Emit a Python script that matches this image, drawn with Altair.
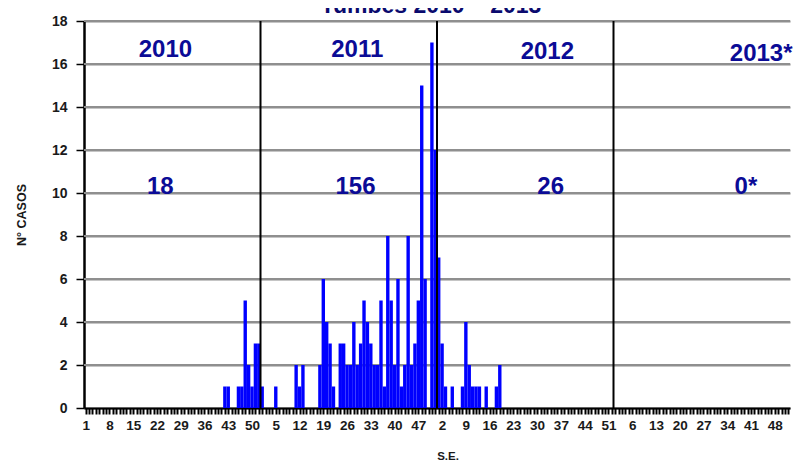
import altair as alt
import pandas as pd

# ---------------- data ----------------
title_text = "Tumbes 2010 – 2013"
years = ["2010", "2011", "2012", "2013*"]
year_totals = ["18", "156", "26", "0*"]
week_tick_labels = ["1", "8", "15", "22", "29", "36", "43", "50",
                    "5", "12", "19", "26", "33", "40", "47",
                    "2", "9", "16", "23", "30", "37", "44", "51",
                    "6", "13", "20", "27", "34", "41", "48"]
y_ticks = [0, 2, 4, 6, 8, 10, 12, 14, 16, 18]

# weekly cases, weeks 1..52 of each year
cases_2010 = [0, 0, 0, 0, 0, 0, 0, 0, 0, 0,
              0, 0, 0, 0, 0, 0, 0, 0, 0, 0,
              0, 0, 0, 0, 0, 0, 0, 0, 0, 0,
              0, 0, 0, 0, 0, 0, 0, 0, 0, 0,
              0, 1, 1, 0, 0, 1, 1, 5, 2, 1,
              3, 3]
cases_2011 = [1, 0, 0, 0, 1, 0, 0, 0, 0, 0,
              2, 1, 2, 0, 0, 0, 0, 2, 6, 4,
              3, 1, 0, 3, 3, 2, 2, 4, 2, 3,
              5, 4, 3, 2, 2, 5, 1, 8, 5, 2,
              6, 1, 2, 8, 2, 3, 5, 15, 6, 0,
              17, 12]
cases_2012 = [7, 3, 1, 0, 1, 0, 0, 1, 4, 2,
              1, 1, 1, 0, 1, 0, 0, 1, 2, 0,
              0, 0, 0, 0, 0, 0, 0, 0, 0, 0,
              0, 0, 0, 0, 0, 0, 0, 0, 0, 0,
              0, 0, 0, 0, 0, 0, 0, 0, 0, 0,
              0, 0]
cases_2013 = [0, 0, 0, 0, 0, 0, 0, 0, 0, 0,
              0, 0, 0, 0, 0, 0, 0, 0, 0, 0,
              0, 0, 0, 0, 0, 0, 0, 0, 0, 0,
              0, 0, 0, 0, 0, 0, 0, 0, 0, 0,
              0, 0, 0, 0, 0, 0, 0, 0, 0, 0,
              0, 0]

WEEKS = 52
series = [cases_2010, cases_2011, cases_2012, cases_2013]
n_total = WEEKS * len(series)

rows = []
for yi, s in enumerate(series):
    for w, c in enumerate(s):
        i = yi * WEEKS + w
        rows.append({"i": i, "i2": i + 1, "cases": c, "zero": 0})
bars_df = pd.DataFrame(rows)

bounds_df = pd.DataFrame({"i": [WEEKS * k for k in range(1, len(series))]})

grid_rows = []
for v in y_ticks[1:]:
    grid_rows.append({"i": 0, "cases": v, "lvl": str(v)})
    grid_rows.append({"i": n_total, "cases": v, "lvl": str(v)})
grid_df = pd.DataFrame(grid_rows)

# annotation placement (data coordinates)
ann_x_year = [24, 80.5, 136.5, 199.5]
ann_y_year = [16.65, 16.65, 16.55, 16.45]
ann_x_tot = [22.5, 80, 137.5, 195]
ann_y_tot = [10.3, 10.3, 10.3, 10.3]
ann_df = pd.DataFrame({
    "i": ann_x_year + ann_x_tot,
    "cases": ann_y_year + ann_y_tot,
    "t": years + year_totals,
})

FONT = "Liberation Sans"
BLUE_TXT = "#0b0b96"

js_labels = "[" + ",".join("'" + l + "'" for l in week_tick_labels) + "]"
tick_vals = [i + 0.5 for i in range(n_total)]

xscale = alt.Scale(domain=[0, n_total], nice=False, zero=False)
yscale = alt.Scale(domain=[0, 18], nice=False)

x_axis = alt.Axis(values=tick_vals, title=None,
                  labelExpr=f"((datum.value - 0.5) % 7 == 0) ? {js_labels}[floor(datum.value / 7)] : ''",
                  labelOverlap=False, labelFont=FONT, labelFontWeight="bold",
                  labelFontSize=13.5, labelColor="#1a1a1a", labelPadding=4,
                  tickColor="#000000", tickSize=6, tickWidth=2,
                  domainColor="#000000", domainWidth=2, grid=False,
                  labelAngle=0)
y_axis = alt.Axis(values=y_ticks, title=None, grid=True,
                  gridColor="#8c8c8c", gridWidth=2,
                  labelFont=FONT, labelFontWeight="bold", labelFontSize=14,
                  labelColor="#1a1a1a", labelPadding=9,
                  tickColor="#000000", tickSize=8, tickWidth=1.5,
                  domainColor="#000000", domainWidth=2.5)

X = alt.X("i:Q", scale=xscale, axis=x_axis)
Y = alt.Y("cases:Q", scale=yscale, axis=y_axis)

grid = alt.Chart(grid_df).mark_line(color="#8f8f8f", strokeWidth=2).encode(
    x=X, y=Y, detail="lvl:N")

bars = alt.Chart(bars_df).mark_rect(color="#0000ff").encode(
    x=X, x2="i2:Q", y=Y, y2="zero:Q",
)

year_rules = alt.Chart(bounds_df).mark_rule(color="#000000", strokeWidth=2).encode(
    x=X,
)

ann = alt.Chart(ann_df).mark_text(font=FONT, fontWeight="bold", fontSize=24,
                                  color=BLUE_TXT, baseline="middle", align="center").encode(
    x=X, y=Y, text="t:N",
)

title_df = pd.DataFrame({"t": [title_text]})
title = alt.Chart(title_df).mark_text(font=FONT, fontWeight="bold", fontSize=23,
                                      color="#0a0a6e", baseline="alphabetic",
                                      align="center").encode(
    x=alt.value(347), y=alt.value(-8), text="t:N")

ytitle_df = pd.DataFrame({"t": ["N° CASOS"]})
ytitle = alt.Chart(ytitle_df).mark_text(font=FONT, fontWeight="bold", fontSize=12.5,
                                        color="#1a1a1a", angle=270, baseline="middle",
                                        align="center").encode(
    x=alt.value(-62), y=alt.value(194), text="t:N")

xtitle_df = pd.DataFrame({"t": ["S.E."]})
xtitle = alt.Chart(xtitle_df).mark_text(font=FONT, fontWeight="bold", fontSize=11.5,
                                        color="#1a1a1a", baseline="middle",
                                        align="center").encode(
    x=alt.value(364), y=alt.value(436), text="t:N")

chart = alt.layer(grid, bars, year_rules, ann, title, ytitle, xtitle).properties(
    width=706, height=387,
    autosize=alt.AutoSizeParams(type="none"),
    padding={"left": 76, "top": 13, "right": 3, "bottom": 54},
    background="#ffffff",
).configure_view(stroke="transparent")

chart.save("out.html", embed_options={"renderer": "svg", "actions": False})
